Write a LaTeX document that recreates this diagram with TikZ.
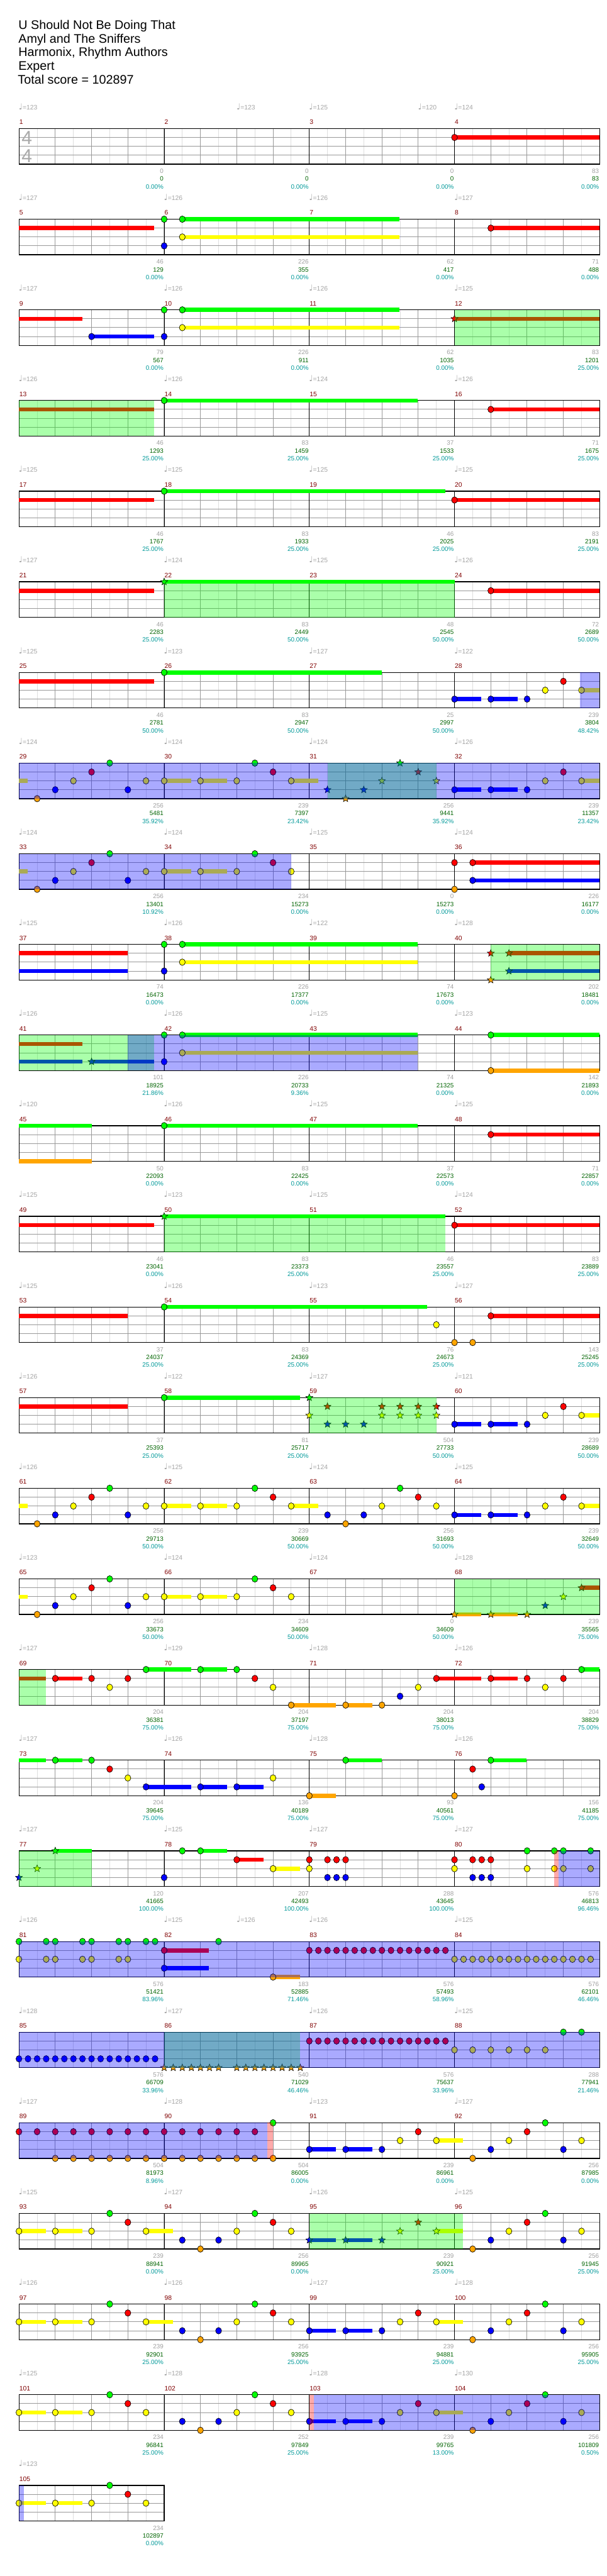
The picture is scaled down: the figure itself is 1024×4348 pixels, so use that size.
\documentclass[tikz,border=0pt]{standalone}
\usepackage{fontspec}
\setmainfont{Liberation Sans}
\newfontfamily\djv{DejaVu Sans}
\usetikzlibrary{shapes.geometric}

\definecolor{L0}{RGB}{0,255,0}
\definecolor{L1}{RGB}{255,0,0}
\definecolor{L2}{RGB}{255,255,0}
\definecolor{L3}{RGB}{0,0,255}
\definecolor{L4}{RGB}{255,165,0}
\definecolor{gridlt}{RGB}{222,222,222}
\definecolor{gridmd}{RGB}{153,153,153}
\definecolor{mnumc}{RGB}{128,0,0}
\definecolor{sgray}{RGB}{160,160,160}
\definecolor{sgreen}{RGB}{0,100,0}
\definecolor{steal}{RGB}{0,153,153}
\definecolor{tgray}{RGB}{165,165,165}
\definecolor{sigc}{RGB}{170,170,170}

\tikzset{
 mnum/.style={anchor=base west,inner sep=0pt,text=mnumc,font=\fontsize{11}{11}\selectfont},
 scl/.style={anchor=base east,inner sep=0pt,font=\fontsize{10.5}{10.5}\selectfont},
 tmp/.style={anchor=base west,inner sep=0pt,text=tgray,font=\fontsize{11}{11}\selectfont},
 ttl/.style={anchor=base west,inner sep=0pt,font=\fontsize{21}{21}\selectfont},
 tsig/.style={inner sep=0pt,text=sigc,font=\fontsize{32}{32}\selectfont},
 starnote/.style={star,star points=5,star point ratio=2.3,minimum size=12.5pt,inner sep=0pt,draw=black,line width=0.6pt},
 notebody/.style={draw=black,line width=0.7pt},
}

\newcommand\GhY{0}
\newcommand\GhRowSet[1]{\pgfmathsetmacro\GhY{217+153*#1}}
\newcommand\GhN[2]{\filldraw[notebody,fill=L#2] ({32+61.25*(#1)},{\GhY+15*(#2)}) ellipse (5pt and 5.5pt);}
\newcommand\GhT[2]{\node[starnote,fill=L#2] at ({32+61.25*(#1)},{\GhY+15*(#2)}) {};}
\newcommand\GhS[3]{\fill[L#3] ({32+61.25*(#1)},{\GhY+15*(#3)-3.5}) rectangle ({32+61.25*(#2)},{\GhY+15*(#3)+3.5});}
\newcommand\GhNS[3]{\GhS{#1}{#2}{#3}\GhN{#1}{#3}}
\newcommand\GhTS[3]{\GhS{#1}{#2}{#3}\GhT{#1}{#3}}
\newcommand\GhR[3]{\fill[#3,fill opacity=0.3333] ({32+61.25*(#1)},{\GhY}) rectangle ({32+61.25*(#2)},{\GhY+60});}
\newcommand\GhStaff[1]{%
 \pgfmathtruncatemacro\GhNb{4*#1-1}%
 \foreach \k in {0,...,\GhNb} \draw[gridlt,line width=1pt] ({32+61.25*\k+30.625},\GhY) -- ++(0,60);
 \foreach \k in {1,...,\GhNb} \draw[gridmd,line width=1.1pt] ({32+61.25*\k},\GhY) -- ++(0,60);
 \foreach \l in {1,2,3} \draw[gridmd,line width=1.1pt] (32,{\GhY+15*\l}) -- ({32+245*#1},{\GhY+15*\l});
 \ifnum#1>1 \pgfmathtruncatemacro\GhNm{#1-1}\foreach \k in {1,...,\GhNm} \draw[black,line width=0.9pt] ({32+245*\k},\GhY) -- ++(0,60);\fi
 \draw[black,line width=1.3pt] (32,\GhY) rectangle ({32+245*#1},{\GhY+60});
}
\newcommand\GhM[2]{\node[mnum] at ({32.5+245*(#1)},{\GhY-7}) {#2};}
\newcommand\GhRow[3]{\GhRowSet{#1}\GhStaff{#3}\foreach \k in {1,...,#3}{\pgfmathtruncatemacro\mm{#2+\k-1}\GhM{\k-1}{\mm}}}
\newcommand\GhSc[4]{%
 \node[scl,text=sgray] at ({31+245*(#1)},{\GhY+75.5}) {#2};
 \node[scl,text=sgreen] at ({31+245*(#1)},{\GhY+88.7}) {#3};
 \node[scl,text=steal] at ({31+245*(#1)},{\GhY+101.7}) {#4};}
\newcommand\GhTp[2]{\node[tmp] at ({31.5+61.25*(#1)},{\GhY-32}) {{\fontsize{14}{14}\djv\symbol{"2669}}=#2};}
\newcommand\GhTq[4]{\GhTp{0}{#1}\GhTp{4}{#2}\GhTp{8}{#3}\GhTp{12}{#4}}

\newcommand\GhPatA{\GhS{0}{0.24}{2}\GhN{0.5}{4}\GhN{1}{3}\GhN{1.5}{2}\GhN{2}{1}\GhN{2.5}{0}\GhN{3}{3}\GhN{3.5}{2}\GhNS{4}{4.74}{2}\GhNS{5}{5.74}{2}\GhN{6}{2}\GhN{6.5}{0}\GhN{7}{1}}
\newcommand\GhPatB{\GhNS{12}{12.74}{3}\GhNS{13}{13.74}{3}\GhN{14}{3}\GhN{14.5}{2}\GhN{15}{1}\GhNS{15.5}{16}{2}}
\newcommand\GhPatC{\GhNS{0}{0.74}{2}\GhNS{1}{1.74}{2}\GhN{2}{2}\GhN{2.5}{0}\GhN{3}{1}}
\newcommand\GhPatCb{\GhN{4.5}{3}\GhN{5}{4}\GhN{5.5}{3}\GhN{6}{2}\GhN{6.5}{0}\GhN{7}{1}\GhN{7.5}{2}}
\newcommand\GhPatD{\GhN{12.5}{4}\GhN{13}{3}\GhN{13.5}{2}\GhN{14}{1}\GhN{14.5}{0}\GhN{15}{3}\GhN{15.5}{2}}
\newcommand\GhPatE{\GhNS{8}{8.74}{3}\GhNS{9}{9.74}{3}\GhN{10}{3}\GhN{10.5}{2}\GhN{11}{1}\GhNS{11.5}{12.24}{2}}

\begin{document}
\begin{tikzpicture}[x=1pt,y=-1pt]
\useasboundingbox (0,0) rectangle (1024,4348);
\fill[white] (0,0) rectangle (1024,4348);

\node[ttl] (t1) at (31,49.5) {U Should Not Be Doing That};
\node[ttl] (t2) at (31,72.5) {Amyl and The Sniffers};
\node[ttl] (t3) at (31,95.5) {Harmonix, Rhythm Authors};
\node[ttl] (t4) at (31,118.5) {Expert};
\node[ttl] (t5) at (30,141.5) {Total score = 102897};

% row 0
\GhRow{0}{1}{4}
\GhTp{0}{123}\GhTp{6}{123}\GhTp{8}{125}\GhTp{11}{120}\GhTp{12}{124}
\GhSc{1}{0}{0}{0.00\%}\GhSc{2}{0}{0}{0.00\%}\GhSc{3}{0}{0}{0.00\%}\GhSc{4}{83}{83}{0.00\%}
\node[tsig] (ts1) at (45.5,{\GhY+16}) {4};
\node[tsig] (ts2) at (45.5,{\GhY+46}) {4};
\GhNS{12}{16}{1}

% row 1
\GhRow{1}{5}{4}
\GhTq{127}{126}{126}{127}
\GhSc{1}{46}{129}{0.00\%}\GhSc{2}{226}{355}{0.00\%}\GhSc{3}{62}{417}{0.00\%}\GhSc{4}{71}{488}{0.00\%}
\GhS{0}{3.73}{1}\GhN{4}{0}\GhNS{4.5}{10.49}{0}\GhNS{4.5}{10.49}{2}\GhN{4}{3}\GhNS{13}{16}{1}

% row 2
\GhRow{2}{9}{4}
\GhTq{127}{126}{126}{125}
\GhSc{1}{79}{567}{0.00\%}\GhSc{2}{226}{911}{0.00\%}\GhSc{3}{62}{1035}{0.00\%}\GhSc{4}{83}{1201}{25.00\%}
\GhS{0}{1.74}{1}\GhNS{2}{3.73}{3}\GhN{4}{3}\GhN{4}{0}\GhNS{4.5}{10.49}{0}\GhNS{4.5}{10.49}{2}\GhTS{12}{16}{1}
\GhR{12}{16}{L0}

% row 3
\GhRow{3}{13}{4}
\GhTq{126}{126}{124}{126}
\GhSc{1}{46}{1293}{25.00\%}\GhSc{2}{83}{1459}{25.00\%}\GhSc{3}{37}{1533}{25.00\%}\GhSc{4}{71}{1675}{25.00\%}
\GhS{0}{3.73}{1}\GhNS{4}{10.99}{0}\GhNS{13}{16}{1}
\GhR{0}{3.73}{L0}

% row 4
\GhRow{4}{17}{4}
\GhTq{125}{125}{125}{125}
\GhSc{1}{46}{1767}{25.00\%}\GhSc{2}{83}{1933}{25.00\%}\GhSc{3}{46}{2025}{25.00\%}\GhSc{4}{83}{2191}{25.00\%}
\GhS{0}{3.73}{1}\GhNS{4}{11.74}{0}\GhNS{12}{16}{1}

% row 5
\GhRow{5}{21}{4}
\GhTq{127}{124}{125}{126}
\GhSc{1}{46}{2283}{25.00\%}\GhSc{2}{83}{2449}{50.00\%}\GhSc{3}{48}{2545}{50.00\%}\GhSc{4}{72}{2689}{50.00\%}
\GhS{0}{3.73}{1}\GhTS{4}{12}{0}\GhNS{13}{16}{1}
\GhR{4}{12}{L0}

% row 6
\GhRow{6}{25}{4}
\GhTq{125}{123}{127}{122}
\GhSc{1}{46}{2781}{50.00\%}\GhSc{2}{83}{2947}{50.00\%}\GhSc{3}{25}{2997}{50.00\%}\GhSc{4}{239}{3804}{48.42\%}
\GhS{0}{3.73}{1}\GhNS{4}{9.99}{0}\GhPatB
\GhR{15.45}{16}{L3}

% row 7
\GhRow{7}{29}{4}
\GhTq{124}{124}{124}{126}
\GhSc{1}{256}{5481}{35.92\%}\GhSc{2}{239}{7397}{23.42\%}\GhSc{3}{256}{9441}{35.92\%}\GhSc{4}{239}{11357}{23.42\%}
\GhPatA\GhNS{7.5}{8.24}{2}
\GhT{8.5}{3}\GhT{9}{4}\GhT{9.5}{3}\GhT{10}{2}\GhT{10.5}{0}\GhT{11}{1}\GhT{11.5}{2}
\GhPatB
\GhR{8.5}{11.5}{L0}\GhR{0}{16}{L3}

% row 8
\GhRow{8}{33}{4}
\GhTq{124}{124}{125}{124}
\GhSc{1}{256}{13401}{10.92\%}\GhSc{2}{234}{15273}{0.00\%}\GhSc{3}{0}{15273}{0.00\%}\GhSc{4}{226}{16177}{0.00\%}
\GhPatA\GhN{7.5}{2}\GhN{12}{1}\GhN{12}{4}\GhNS{12.5}{16}{1}\GhNS{12.5}{16}{3}
\GhR{0}{7.5}{L3}

% row 9
\GhRow{9}{37}{4}
\GhTq{125}{126}{122}{128}
\GhSc{1}{74}{16473}{0.00\%}\GhSc{2}{226}{17377}{0.00\%}\GhSc{3}{74}{17673}{0.00\%}\GhSc{4}{202}{18481}{0.00\%}
\GhS{0}{3}{1}\GhS{0}{3}{3}\GhN{4}{0}\GhNS{4.5}{10.99}{0}\GhNS{4.5}{10.99}{2}\GhN{4}{3}
\GhT{13}{1}\GhT{13}{4}\GhTS{13.5}{16}{1}\GhTS{13.5}{16}{3}
\GhR{13}{16}{L0}

% row 10
\GhRow{10}{41}{4}
\GhTq{126}{126}{125}{123}
\GhSc{1}{101}{18925}{21.86\%}\GhSc{2}{226}{20733}{9.36\%}\GhSc{3}{74}{21325}{0.00\%}\GhSc{4}{142}{21893}{0.00\%}
\GhS{0}{1.74}{1}\GhS{0}{1.74}{3}\GhTS{2}{3.73}{3}\GhN{4}{0}\GhNS{4.5}{10.99}{0}\GhN{4}{3}\GhNS{4.5}{10.99}{2}\GhNS{13}{16}{0}\GhNS{13}{16}{4}
\GhR{0}{3.73}{L0}\GhR{3}{10.99}{L3}

% row 11
\GhRow{11}{45}{4}
\GhTq{120}{126}{125}{125}
\GhSc{1}{50}{22093}{0.00\%}\GhSc{2}{83}{22425}{0.00\%}\GhSc{3}{37}{22573}{0.00\%}\GhSc{4}{71}{22857}{0.00\%}
\GhS{0}{2}{0}\GhS{0}{2}{4}\GhNS{4}{10.99}{0}\GhNS{13}{16}{1}

% row 12
\GhRow{12}{49}{4}
\GhTq{125}{123}{125}{124}
\GhSc{1}{46}{23041}{0.00\%}\GhSc{2}{83}{23373}{25.00\%}\GhSc{3}{46}{23557}{25.00\%}\GhSc{4}{83}{23889}{25.00\%}
\GhS{0}{3.73}{1}\GhTS{4}{11.74}{0}\GhNS{12}{16}{1}
\GhR{4}{11.74}{L0}

% row 13
\GhRow{13}{53}{4}
\GhTq{125}{126}{123}{127}
\GhSc{1}{37}{24037}{25.00\%}\GhSc{2}{83}{24369}{25.00\%}\GhSc{3}{76}{24673}{25.00\%}\GhSc{4}{143}{25245}{25.00\%}
\GhS{0}{3}{1}\GhNS{4}{11.24}{0}\GhN{11.5}{2}\GhN{12}{4}\GhN{12.5}{4}\GhNS{13}{16}{1}

% row 14
\GhRow{14}{57}{4}
\GhTq{126}{122}{127}{121}
\GhSc{1}{37}{25393}{25.00\%}\GhSc{2}{81}{25717}{25.00\%}\GhSc{3}{504}{27733}{50.00\%}\GhSc{4}{239}{28689}{50.00\%}
\GhS{0}{3}{1}\GhNS{4}{7.74}{0}
\GhT{8}{0}\GhT{8}{2}\GhT{8.5}{1}\GhT{8.5}{3}\GhT{9}{3}\GhT{9.5}{3}\GhT{10}{1}\GhT{10}{2}\GhT{10.5}{1}\GhT{10.5}{2}\GhT{11}{1}\GhT{11}{2}\GhT{11.5}{1}\GhT{11.5}{2}
\GhPatB
\GhR{8}{11.5}{L0}

% row 15
\GhRow{15}{61}{4}
\GhTq{126}{125}{124}{125}
\GhSc{1}{256}{29713}{50.00\%}\GhSc{2}{239}{30669}{50.00\%}\GhSc{3}{256}{31693}{50.00\%}\GhSc{4}{239}{32649}{50.00\%}
\GhPatA\GhNS{7.5}{8.24}{2}\GhN{8.5}{3}\GhN{9}{4}\GhN{9.5}{3}\GhN{10}{2}\GhN{10.5}{0}\GhN{11}{1}\GhN{11.5}{2}\GhPatB

% row 16
\GhRow{16}{65}{4}
\GhTq{123}{124}{124}{128}
\GhSc{1}{256}{33673}{50.00\%}\GhSc{2}{234}{34609}{50.00\%}\GhSc{3}{0}{34609}{50.00\%}\GhSc{4}{239}{35565}{75.00\%}
\GhPatA\GhN{7.5}{2}\GhTS{12}{12.74}{4}\GhTS{13}{13.74}{4}\GhT{14}{4}\GhT{14.5}{3}\GhT{15}{2}\GhTS{15.5}{16}{1}
\GhR{12}{16}{L0}

% row 17
\GhRow{17}{69}{4}
\GhTq{127}{129}{128}{126}
\GhSc{1}{204}{36381}{75.00\%}\GhSc{2}{204}{37197}{75.00\%}\GhSc{3}{204}{38013}{75.00\%}\GhSc{4}{204}{38829}{75.00\%}
\GhS{0}{0.74}{1}\GhNS{1}{1.74}{1}\GhN{2}{1}\GhN{2.5}{2}\GhN{3}{1}\GhNS{3.5}{4.74}{0}\GhNS{5}{5.74}{0}\GhN{6}{0}\GhN{6.5}{1}\GhN{7}{2}\GhNS{7.5}{8.74}{4}\GhNS{9}{9.74}{4}\GhN{10}{4}\GhN{10.5}{3}\GhN{11}{2}\GhNS{11.5}{12.74}{1}\GhNS{13}{13.74}{1}\GhN{14}{1}\GhN{14.5}{2}\GhN{15}{1}\GhNS{15.5}{16}{0}
\GhR{0}{0.74}{L0}

% row 18
\GhRow{18}{73}{4}
\GhTq{127}{126}{128}{126}
\GhSc{1}{204}{39645}{75.00\%}\GhSc{2}{136}{40189}{75.00\%}\GhSc{3}{93}{40561}{75.00\%}\GhSc{4}{156}{41185}{75.00\%}
\GhS{0}{0.74}{0}\GhNS{1}{1.74}{0}\GhN{2}{0}\GhN{2.5}{1}\GhN{3}{2}\GhNS{3.5}{4.74}{3}\GhNS{5}{5.74}{3}\GhNS{6}{6.74}{3}\GhN{7}{2}\GhNS{8}{8.74}{4}\GhNS{9}{9.99}{0}\GhN{12}{4}\GhN{12.5}{1}\GhN{12.75}{3}\GhNS{13}{13.99}{0}

% row 19
\GhRow{19}{77}{4}
\GhTq{127}{125}{127}{127}
\GhSc{1}{120}{41665}{100.00\%}\GhSc{2}{207}{42493}{100.00\%}\GhSc{3}{288}{43645}{100.00\%}\GhSc{4}{576}{46813}{96.46\%}
\GhT{0}{3}\GhT{0.5}{2}\GhTS{1}{2}{0}\GhN{4}{3}\GhN{4.5}{0}\GhNS{5}{5.74}{0}\GhNS{6}{6.74}{1}\GhNS{7}{7.74}{2}
\GhN{8}{1}\GhN{8}{2}\GhN{8.5}{1}\GhN{8.75}{1}\GhN{9}{1}\GhN{8.5}{3}\GhN{8.75}{3}\GhN{9}{3}
\GhN{12}{1}\GhN{12}{2}\GhN{12.5}{1}\GhN{12.75}{1}\GhN{13}{1}\GhN{12.5}{3}\GhN{12.75}{3}\GhN{13}{3}
\GhN{14}{0}\GhN{14}{2}\GhN{14.75}{0}\GhN{14.75}{2}\GhN{15}{0}\GhN{15}{2}\GhN{15.75}{0}\GhN{15.75}{2}
\GhR{0}{2}{L0}\GhR{14.75}{14.86}{L1}\GhR{14.86}{16}{L3}

% row 20
\GhRow{20}{81}{4}
\GhTp{0}{126}\GhTp{4}{125}\GhTp{6}{126}\GhTp{8}{126}\GhTp{12}{125}
\GhSc{1}{576}{51421}{83.96\%}\GhSc{2}{183}{52885}{71.46\%}\GhSc{3}{576}{57493}{58.96\%}\GhSc{4}{576}{62101}{46.46\%}
\foreach \p in {0,0.75,1,1.75,2,2.75,3}{\GhN{\p}{0}\GhN{\p}{2}}
\GhN{3.5}{0}\GhN{3.75}{0}\GhNS{4}{5.24}{1}\GhNS{4}{5.24}{3}\GhN{5.5}{0}\GhNS{7}{7.74}{4}
\foreach \i in {0,...,15}{\GhN{8+0.25*\i}{1}}
\foreach \i in {0,...,15}{\GhN{12+0.25*\i}{2}}
\GhR{0}{16}{L3}

% row 21
\GhRow{21}{85}{4}
\GhTq{128}{127}{126}{125}
\GhSc{1}{576}{66709}{33.96\%}\GhSc{2}{540}{71029}{46.46\%}\GhSc{3}{576}{75637}{33.96\%}\GhSc{4}{288}{77941}{21.46\%}
\foreach \i in {0,...,15}{\GhN{0.25*\i}{3}}
\foreach \i in {0,...,6}{\GhT{4+0.25*\i}{4}}
\foreach \i in {0,...,7}{\GhT{6+0.25*\i}{4}}
\foreach \i in {0,...,15}{\GhN{8+0.25*\i}{1}}
\foreach \i in {0,...,5}{\GhN{12+0.5*\i}{2}}
\GhN{15}{0}\GhN{15.5}{0}
\GhR{4}{7.75}{L0}\GhR{0}{16}{L3}

% row 22
\GhRow{22}{89}{4}
\GhTq{127}{128}{123}{127}
\GhSc{1}{504}{81973}{8.96\%}\GhSc{2}{504}{86005}{0.00\%}\GhSc{3}{239}{86961}{0.00\%}\GhSc{4}{256}{87985}{0.00\%}
\foreach \i in {0,...,13}{\GhN{0.5*\i}{1}}
\foreach \i in {0,...,11}{\GhN{1+0.5*\i}{4}}
\GhN{7}{0}\GhN{7}{4}\GhPatE\GhPatD
\GhR{0}{6.85}{L3}\GhR{6.85}{7}{L1}

% row 23
\GhRow{23}{93}{4}
\GhTq{125}{127}{126}{125}
\GhSc{1}{239}{88941}{0.00\%}\GhSc{2}{256}{89965}{0.00\%}\GhSc{3}{239}{90921}{25.00\%}\GhSc{4}{256}{91945}{25.00\%}
\GhPatC\GhNS{3.5}{4.24}{2}\GhPatCb
\GhTS{8}{8.74}{3}\GhTS{9}{9.74}{3}\GhT{10}{3}\GhT{10.5}{2}\GhT{11}{1}\GhTS{11.5}{12.24}{2}
\GhPatD
\GhR{8}{12.24}{L0}

% row 24
\GhRow{24}{97}{4}
\GhTq{126}{126}{127}{128}
\GhSc{1}{239}{92901}{25.00\%}\GhSc{2}{256}{93925}{25.00\%}\GhSc{3}{239}{94881}{25.00\%}\GhSc{4}{256}{95905}{25.00\%}
\GhPatC\GhNS{3.5}{4.24}{2}\GhPatCb\GhPatE\GhPatD

% row 25
\GhRow{25}{101}{4}
\GhTq{125}{128}{128}{130}
\GhSc{1}{234}{96841}{25.00\%}\GhSc{2}{252}{97849}{25.00\%}\GhSc{3}{239}{99765}{13.00\%}\GhSc{4}{256}{101809}{0.50\%}
\GhPatC\GhN{3.5}{2}\GhPatCb\GhPatE\GhPatD
\GhR{8}{8.13}{L1}\GhR{8.13}{16}{L3}

% row 26
\GhRow{26}{105}{1}
\GhTp{0}{123}
\GhSc{1}{234}{102897}{0.00\%}
\GhPatC\GhN{3.5}{2}
\GhR{0}{0.14}{L3}
\end{tikzpicture}
\end{document}
